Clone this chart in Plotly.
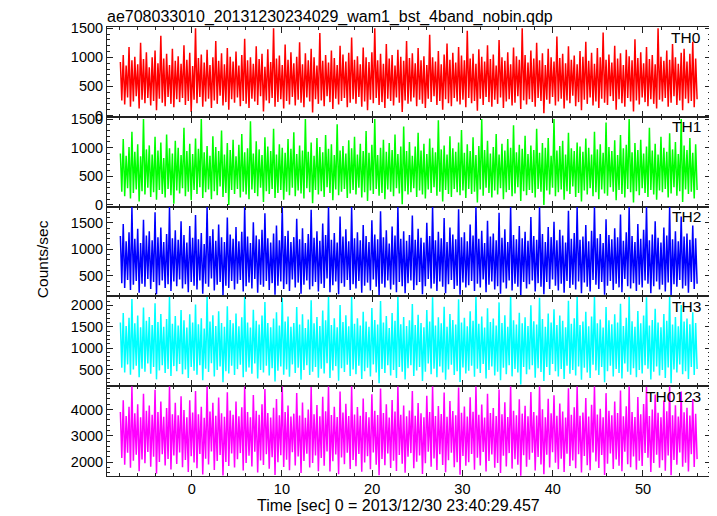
import numpy as np
import plotly.graph_objects as go
from plotly.subplots import make_subplots

title_text = "ae708033010_20131230234029_wam1_bst_4band_nobin.qdp"
x_label = "Time [sec] 0 = 2013/12/30 23:40:29.457"
y_label = "Counts/sec"
band_names = ["TH0", "TH1", "TH2", "TH3", "TH0123"]
band_colors = ["#ff0000", "#00ff00", "#0000ff", "#00ffff", "#ff00ff"]
t_start, t_end = -7.9, 56.0

# per-bin upper / lower excursions
th0_hi = [920, 1040, 860, 1180, 950, 1010, 880, 1250, 970, 1090, 830, 1000, 1120, 900, 1370, 980, 1060, 870, 1150, 940,
          1020, 890, 1210, 960, 1080, 850, 1500, 990, 1050, 910, 1130, 870, 1000, 1280, 940, 1070, 880, 1160, 1010, 930,
          1100, 860, 1040, 1320, 950, 1000, 890, 1190, 970, 1060, 840, 1140, 920, 1500, 980, 1030, 870, 1220, 960, 1090,
          900, 1010, 1260, 880, 1070, 950, 1150, 1000, 860, 1420, 940, 1040, 910, 1120, 990, 870, 1200, 1050, 930, 1080,
          1340, 960, 1020, 880, 1170, 1000, 920, 1090, 1500, 950, 1060, 890, 1230, 980, 1040, 860, 1130, 1010, 940, 1280,
          990, 1070, 900, 1160, 950, 1020, 870, 1390, 1000, 930, 1110, 880, 1050, 1240, 960, 1080, 910, 1180, 1030, 950,
          1460, 980, 1060, 890, 1140, 1010, 930, 1210, 970, 1050, 860, 1300, 1000, 940, 1090, 880, 1170, 1020, 960, 1500,
          1040, 910, 1120, 980, 1250, 950, 1070, 870, 1150, 1000, 930, 1360, 990, 1060, 900, 1190, 960, 1030, 880, 1110,
          1010, 1270, 940, 1080, 890, 1160, 1000, 1430, 960, 1050, 910, 1200, 980, 1070, 870, 1130, 1020, 950, 1310, 990,
          1090, 900, 1180, 970, 1040, 880, 1500, 1010, 940, 1120, 960, 1230, 1000, 890, 1080, 1150, 930, 1060, 1270, 980]
th0_lo = [260, 190, 310, 150, 240, 330, 120, 270, 210, 300, 170, 250, 90, 290, 220, 160, 320, 200, 140, 280,
          230, 300, 180, 250, 60, 270, 210, 320, 150, 240, 290, 130, 260, 200, 340, 170, 230, 100, 280, 220,
          310, 160, 250, 200, 130, 290, 240, 180, 330, 70, 260, 210, 300, 150, 230, 280, 120, 250, 190, 320,
          170, 270, 220, 140, 310, 240, 50, 280, 200, 260, 160, 330, 230, 110, 290, 190, 250, 300, 140, 220,
          280, 200, 320, 150, 240, 90, 270, 210, 300, 180, 230, 130, 290, 250, 170, 310, 220, 60, 260, 200,
          240, 310, 160, 270, 200, 130, 290, 230, 330, 180, 250, 100, 280, 210, 160, 300, 240, 190, 270, 140,
          300, 210, 250, 80, 290, 180, 320, 230, 150, 270, 200, 310, 130, 240, 280, 170, 220, 330, 110, 260,
          190, 280, 230, 150, 300, 250, 40, 270, 200, 320, 170, 240, 290, 120, 260, 210, 340, 160, 230, 90,
          270, 200, 310, 170, 240, 130, 290, 220, 180, 330, 250, 100, 280, 210, 150, 300, 240, 70, 260, 190,
          310, 230, 160, 280, 200, 120, 270, 240, 300, 150, 220, 330, 180, 260, 90, 290, 210, 250, 140, 280]

th1_hi = [900, 1150, 860, 1010, 1280, 930, 1060, 850, 1500, 970, 1040, 880, 1190, 950, 1090, 820, 1230, 990, 900, 1120,
          1000, 870, 1350, 940, 1070, 890, 1160, 980, 1500, 920, 1030, 860, 1200, 1010, 940, 1300, 880, 1080, 960, 1140,
          850, 1050, 1240, 920, 990, 1460, 900, 1110, 970, 870, 1180, 1020, 940, 1330, 880, 1060, 1000, 910, 1150, 980,
          1270, 890, 1040, 950, 1500, 930, 1090, 860, 1170, 1010, 920, 1220, 980, 1060, 870, 1410, 950, 1030, 900, 1130,
          990, 1190, 880, 1070, 940, 1290, 910, 1050, 1500, 870, 1000, 1140, 930, 1080, 960, 1230, 890, 1020, 1370, 940,
          1100, 860, 1020, 1260, 950, 1070, 890, 1160, 1000, 920, 1480, 970, 1040, 880, 1200, 990, 930, 1090, 1310, 910,
          1060, 940, 1180, 870, 1030, 1500, 960, 1120, 900, 1010, 1240, 880, 1070, 950, 1150, 1000, 1390, 920, 1050, 980,
          1210, 890, 1040, 960, 1330, 910, 1080, 1000, 1170, 860, 1500, 950, 1030, 1120, 880, 1260, 990, 940, 1090, 1020,
          930, 1160, 1000, 880, 1280, 970, 1060, 910, 1440, 1010, 940, 1130, 870, 1220, 990, 1050, 1500, 920, 1080, 960,
          1140, 900, 1020, 1350, 950, 1070, 880, 1190, 1000, 930, 1250, 970, 1100, 890, 1500, 1040, 960, 1170, 910, 1060]
th1_lo = [230, 150, 290, 110, 210, 270, 60, 240, 180, 300, 140, 220, 90, 260, 190, 130, 280, 170, 20, 250,
          200, 290, 150, 230, 80, 260, 190, 310, 120, 220, 270, 100, 240, 170, 320, 140, 210, 0, 260, 190,
          280, 130, 230, 180, 100, 270, 210, 150, 300, 50, 240, 190, 280, 120, 210, 260, 90, 230, 170, 300,
          150, 250, 200, 110, 290, 220, 30, 260, 180, 240, 140, 310, 210, 80, 270, 170, 230, 280, 120, 200,
          260, 180, 300, 130, 220, 70, 250, 190, 280, 160, 210, 100, 270, 230, 150, 290, 200, 10, 240, 180,
          220, 290, 140, 250, 180, 110, 270, 210, 310, 160, 230, 60, 260, 190, 140, 280, 220, 170, 250, 120,
          280, 190, 230, 40, 270, 160, 300, 210, 130, 250, 180, 290, 100, 220, 260, 150, 200, 310, 70, 240,
          170, 260, 210, 130, 280, 230, 0, 250, 180, 300, 150, 220, 270, 90, 240, 190, 320, 140, 210, 60,
          250, 180, 290, 150, 220, 100, 270, 200, 160, 310, 230, 80, 260, 190, 130, 280, 220, 40, 240, 170,
          290, 210, 140, 260, 180, 90, 250, 220, 280, 130, 200, 310, 160, 240, 50, 270, 190, 230, 110, 260]

th2_hi = [1250, 1480, 1150, 1320, 1800, 1200, 1390, 1120, 1560, 1260, 1340, 1170, 1700, 1230, 1410, 1140, 1290, 1800, 1210, 1360,
          1180, 1530, 1270, 1130, 1440, 1220, 1650, 1190, 1310, 1100, 1800, 1250, 1380, 1160, 1470, 1230, 1140, 1600, 1280, 1200,
          1420, 1150, 1330, 1800, 1240, 1120, 1510, 1260, 1190, 1370, 1680, 1210, 1130, 1300, 1450, 1170, 1800, 1250, 1350, 1140,
          1230, 1580, 1190, 1400, 1120, 1290, 1750, 1220, 1340, 1160, 1490, 1270, 1800, 1180, 1310, 1130, 1620, 1240, 1380, 1150,
          1800, 1210, 1320, 1170, 1460, 1250, 1140, 1550, 1280, 1190, 1720, 1230, 1360, 1110, 1430, 1260, 1800, 1200, 1340, 1160,
          1270, 1640, 1180, 1390, 1220, 1130, 1500, 1250, 1800, 1170, 1330, 1210, 1590, 1140, 1410, 1280, 1190, 1760, 1230, 1320,
          1150, 1470, 1260, 1800, 1200, 1350, 1120, 1540, 1240, 1300, 1170, 1690, 1220, 1380, 1140, 1800, 1270, 1190, 1440, 1210,
          1330, 1160, 1610, 1250, 1180, 1800, 1290, 1140, 1420, 1230, 1520, 1170, 1370, 1260, 1130, 1730, 1200, 1310, 1800, 1180,
          1240, 1460, 1150, 1350, 1800, 1210, 1290, 1120, 1570, 1270, 1190, 1400, 1230, 1660, 1160, 1320, 1800, 1250, 1140, 1480,
          1200, 1370, 1800, 1170, 1280, 1530, 1220, 1130, 1410, 1260, 1800, 1190, 1340, 1150, 1620, 1240, 1300, 1180, 1450, 1210]
th2_lo = [360, 270, 420, 230, 330, 400, 180, 350, 290, 440, 250, 380, 150, 320, 410, 270, 340, 210, 390, 300,
          430, 260, 340, 190, 380, 310, 240, 410, 160, 350, 290, 450, 220, 330, 380, 130, 310, 270, 400, 240,
          350, 420, 200, 300, 370, 260, 440, 180, 330, 290, 400, 230, 360, 140, 310, 390, 250, 340, 210, 430,
          280, 370, 160, 330, 410, 240, 300, 380, 200, 350, 270, 450, 190, 320, 390, 150, 360, 290, 420, 230,
          340, 260, 400, 180, 310, 370, 220, 430, 290, 130, 350, 280, 410, 240, 330, 190, 380, 300, 170, 360,
          410, 230, 320, 380, 150, 300, 440, 260, 350, 210, 390, 290, 170, 340, 420, 250, 310, 140, 370, 280,
          320, 400, 210, 350, 280, 430, 190, 330, 390, 240, 300, 160, 370, 260, 410, 220, 350, 290, 120, 380,
          260, 340, 410, 200, 360, 290, 150, 380, 250, 430, 310, 220, 350, 180, 400, 270, 330, 240, 390, 170,
          370, 290, 200, 420, 330, 250, 380, 140, 310, 400, 230, 350, 280, 190, 440, 300, 260, 360, 210, 330,
          280, 410, 350, 170, 300, 390, 240, 330, 200, 370, 130, 340, 290, 420, 260, 310, 180, 380, 250, 350]

th3_hi = [1600, 1820, 1520, 1710, 2150, 1580, 1760, 1490, 1950, 1640, 1730, 1540, 2050, 1610, 1800, 1500, 1680, 2200, 1570, 1750,
          1530, 1890, 1650, 1480, 1790, 1600, 2020, 1560, 1700, 1460, 2200, 1620, 1770, 1520, 1860, 1590, 1500, 1980, 1660, 1580,
          1810, 1510, 1720, 2200, 1600, 1480, 1900, 1640, 1550, 1760, 2080, 1590, 1490, 1690, 1840, 1530, 2180, 1620, 1740, 1500,
          1590, 1960, 1550, 1790, 1470, 1670, 2120, 1580, 1730, 1520, 1880, 1650, 2200, 1540, 1700, 1490, 2010, 1610, 1770, 1510,
          2200, 1570, 1700, 1530, 1850, 1620, 1500, 1940, 1660, 1550, 2100, 1600, 1750, 1470, 1820, 1640, 2200, 1560, 1730, 1520,
          1650, 2030, 1540, 1780, 1590, 1490, 1890, 1620, 2190, 1530, 1720, 1580, 1970, 1500, 1800, 1660, 1550, 2140, 1600, 1710,
          1510, 1860, 1640, 2200, 1570, 1740, 1480, 1930, 1610, 1690, 1530, 2070, 1590, 1770, 1500, 2200, 1650, 1550, 1830, 1580,
          1720, 1520, 2000, 1630, 1550, 2180, 1680, 1500, 1810, 1600, 1910, 1540, 1760, 1640, 1490, 2110, 1570, 1700, 2200, 1540,
          1620, 1850, 1510, 1740, 2200, 1580, 1670, 1480, 1960, 1650, 1560, 1790, 1600, 2040, 1520, 1710, 2200, 1630, 1500, 1870,
          1580, 1760, 2190, 1530, 1660, 1920, 1600, 1490, 1800, 1640, 2200, 1550, 1730, 1510, 2010, 1620, 1690, 1560, 1840, 1590]
th3_lo = [540, 430, 620, 380, 500, 590, 320, 520, 450, 640, 400, 560, 270, 480, 600, 420, 510, 350, 580, 460,
          630, 390, 500, 300, 560, 470, 380, 600, 250, 520, 440, 650, 340, 490, 570, 200, 460, 410, 590, 370,
          510, 610, 320, 450, 550, 400, 640, 290, 490, 430, 590, 360, 530, 220, 470, 570, 380, 500, 330, 620,
          420, 540, 260, 490, 600, 370, 450, 560, 310, 520, 410, 650, 300, 480, 580, 240, 530, 440, 610, 350,
          500, 390, 590, 280, 460, 540, 340, 620, 430, 180, 510, 420, 600, 360, 490, 300, 560, 450, 270, 530,
          600, 350, 480, 560, 230, 450, 640, 390, 520, 320, 570, 430, 260, 500, 610, 370, 460, 210, 550, 410,
          470, 590, 330, 520, 420, 630, 290, 490, 570, 360, 450, 250, 540, 390, 600, 340, 510, 430, 150, 560,
          390, 500, 600, 310, 530, 440, 230, 560, 370, 630, 460, 340, 510, 280, 590, 400, 490, 360, 570, 260,
          540, 430, 300, 610, 480, 370, 560, 200, 460, 590, 340, 510, 420, 290, 640, 450, 380, 530, 320, 490,
          410, 600, 520, 270, 450, 570, 360, 490, 300, 550, 180, 500, 430, 620, 390, 460, 280, 560, 370, 510]

th0123_hi = [3900, 4350, 3750, 4100, 4880, 3850, 4200, 3700, 4600, 3950, 4150, 3800, 4750, 3900, 4300, 3720, 4050, 4880, 3820, 4250,
             3780, 4500, 3980, 3700, 4350, 3880, 4700, 3820, 4100, 3680, 4880, 3920, 4250, 3760, 4450, 3850, 3720, 4650, 3960, 3800,
             4300, 3740, 4080, 4880, 3900, 3700, 4550, 3950, 3800, 4200, 4780, 3860, 3690, 4060, 4400, 3780, 4880, 3900, 4150, 3730,
             3840, 4620, 3770, 4260, 3680, 4000, 4850, 3820, 4170, 3740, 4480, 3930, 4880, 3790, 4100, 3710, 4680, 3880, 4220, 3750,
             4880, 3810, 4090, 3760, 4420, 3900, 3700, 4580, 3950, 3790, 4800, 3860, 4200, 3690, 4360, 3920, 4880, 3800, 4150, 3740,
             3960, 4700, 3760, 4240, 3850, 3700, 4520, 3900, 4880, 3750, 4130, 3830, 4640, 3720, 4320, 3940, 3780, 4830, 3870, 4110,
             3730, 4460, 3910, 4880, 3800, 4190, 3690, 4600, 3860, 4050, 3750, 4760, 3820, 4270, 3710, 4880, 3950, 3780, 4390, 3840,
             4140, 3740, 4660, 3900, 3770, 4880, 4010, 3700, 4410, 3850, 4540, 3760, 4230, 3920, 3690, 4810, 3800, 4080, 4880, 3760,
             3880, 4430, 3730, 4180, 4880, 3810, 4030, 3700, 4620, 3950, 3780, 4300, 3860, 4720, 3740, 4120, 4880, 3900, 3710, 4470,
             3820, 4210, 4860, 3750, 4000, 4570, 3870, 3700, 4340, 3930, 4880, 3780, 4160, 3730, 4680, 3890, 4060, 3770, 4400, 3840]
th0123_lo = [2150, 1900, 2350, 1780, 2050, 2280, 1650, 2100, 1950, 2380, 1820, 2200, 1560, 2000, 2300, 1870, 2120, 1720, 2250, 1930,
             2360, 1800, 2080, 1620, 2220, 1980, 1760, 2310, 1530, 2130, 1910, 2400, 1700, 2040, 2270, 1490, 2000, 1850, 2330, 1790,
             2110, 2340, 1680, 1960, 2240, 1830, 2390, 1600, 2060, 1890, 2300, 1750, 2180, 1510, 1990, 2260, 1810, 2090, 1690, 2370,
             1870, 2210, 1580, 2040, 2320, 1790, 1960, 2250, 1650, 2150, 1860, 2400, 1640, 2030, 2290, 1540, 2170, 1920, 2350, 1740,
             2080, 1840, 2310, 1630, 1980, 2220, 1730, 2360, 1900, 1500, 2120, 1880, 2330, 1770, 2050, 1660, 2270, 1940, 1590, 2200,
             2340, 1760, 2010, 2250, 1550, 1950, 2390, 1820, 2140, 1700, 2300, 1890, 1610, 2070, 2350, 1800, 1990, 1520, 2230, 1860,
             1990, 2310, 1710, 2160, 1870, 2380, 1640, 2040, 2290, 1780, 1960, 1580, 2240, 1830, 2340, 1750, 2110, 1900, 1480, 2260,
             1820, 2090, 2350, 1680, 2190, 1910, 1540, 2280, 1790, 2370, 1970, 1730, 2130, 1620, 2320, 1850, 2060, 1760, 2300, 1600,
             2230, 1880, 1690, 2360, 2020, 1770, 2270, 1510, 1940, 2330, 1740, 2100, 1860, 1650, 2390, 1920, 1800, 2210, 1710, 2050,
             1850, 2340, 2160, 1620, 1960, 2280, 1780, 2070, 1670, 2250, 1500, 2080, 1900, 2360, 1820, 1970, 1640, 2300, 1810, 2110]

band_hi = [th0_hi, th1_hi, th2_hi, th3_hi, th0123_hi]
band_lo = [th0_lo, th1_lo, th2_lo, th3_lo, th0123_lo]

y_ranges = [[-23, 1523], [-30, 1540], [109, 1808], [110, 2210], [1469, 4884]]
y_dtick = [500, 500, 500, 500, 1000]
y_minor = [100, 100, 100, 100, 200]
x_range = [-9.38, 57.54]

FONT = "Liberation Sans, Arial, sans-serif"
AX = "#222222"

# the page body adds an 8 px offset, so the figure is 8 px smaller on each axis
W, H = 709, 508

fig = make_subplots(rows=5, cols=1, shared_xaxes=True, vertical_spacing=0)

for i in range(5):
    hi = np.asarray(band_hi[i], dtype=float)
    lo = np.asarray(band_lo[i], dtype=float)
    y = np.empty(hi.size * 2)
    y[0::2] = hi
    y[1::2] = lo
    t = np.linspace(t_start, t_end, y.size)
    fig.add_trace(go.Scatter(x=t, y=y, mode="lines",
                             line=dict(color=band_colors[i], width=1.5),
                             showlegend=False, hoverinfo="skip"),
                  row=i + 1, col=1)
    fig.update_yaxes(range=y_ranges[i], dtick=y_dtick[i], tick0=0,
                     minor=dict(dtick=y_minor[i], ticks="inside", ticklen=3,
                                tickcolor=AX, showgrid=False),
                     row=i + 1, col=1)

fig.update_yaxes(showgrid=False, zeroline=False, showline=True, linecolor=AX,
                 linewidth=1, mirror="allticks", ticks="inside", ticklen=6,
                 tickcolor=AX, automargin=False,
                 tickfont=dict(family=FONT, size=14.5, color="black"))
fig.update_xaxes(range=x_range, dtick=10, tick0=0, showgrid=False,
                 zeroline=False, showline=True, linecolor=AX, linewidth=1,
                 mirror="allticks", ticks="inside", ticklen=6, tickcolor=AX,
                 automargin=False,
                 minor=dict(dtick=2, ticks="inside", ticklen=3, tickcolor=AX,
                            showgrid=False),
                 tickfont=dict(family=FONT, size=14.5, color="black"))

annotations = []
for i in range(5):
    top = 1 - i * 0.2
    annotations.append(dict(text=band_names[i], xref="paper", yref="paper",
                            x=1, y=top, xanchor="right", yanchor="middle",
                            xshift=-8, yshift=-10, showarrow=False,
                            font=dict(family=FONT, size=15.5, color="black")))
annotations.append(dict(text=x_label, xref="paper", yref="paper",
                        x=0.482, y=-0.0646, xanchor="center", yanchor="middle",
                        showarrow=False,
                        font=dict(family=FONT, size=16, color="black")))
annotations.append(dict(text=y_label, xref="paper", yref="paper",
                        x=-0.1076, y=0.483, xanchor="center", yanchor="middle",
                        textangle=-90, showarrow=False,
                        font=dict(family=FONT, size=15.5, color="black")))

fig.update_layout(
    width=W, height=H,
    margin=dict(l=99, r=6, t=19, b=40),
    paper_bgcolor="white", plot_bgcolor="white",
    title=dict(text=title_text, x=99 / W, xanchor="left", xref="container",
               y=1 - 8 / H, yanchor="middle", yref="container",
               font=dict(family=FONT, size=16, color="black")),
    annotations=annotations,
)

fig.write_html("out.html")
